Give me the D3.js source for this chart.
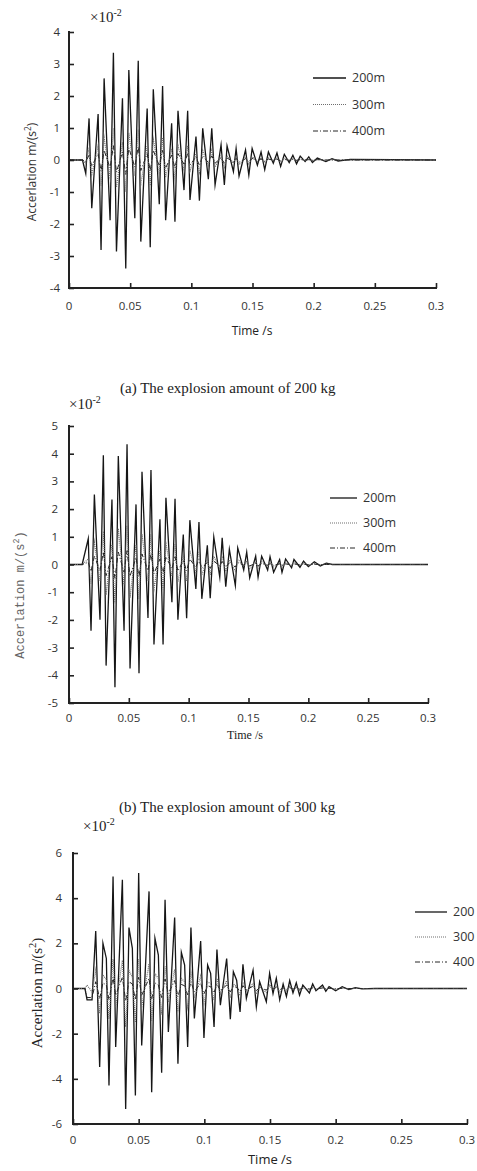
<!DOCTYPE html>
<html><head><meta charset="utf-8">
<script src="https://cdn.jsdelivr.net/npm/d3@7"></script>
<style>body{margin:0;background:#fff}svg{display:block}</style>
</head><body>
<svg id="c" width="477" height="1171"></svg>
<script>
// ---------- DATA ----------
const seriesNames1 = ["200m", "300m", "400m"];
const seriesNames2 = ["200m", "300m", "400m"];
const seriesNames3 = ["200", "300", "400"];
const xTicks = [0, 0.05, 0.1, 0.15, 0.2, 0.25, 0.3];
const yTicks1 = [-4, -3, -2, -1, 0, 1, 2, 3, 4];
const yTicks2 = [-5, -4, -3, -2, -1, 0, 1, 2, 3, 4, 5];
const yTicks3 = [-6, -4, -2, 0, 2, 4, 6];

// (a) 200 kg
const time1 = [0, 0.011, 0.0137, 0.0164, 0.0186, 0.0238, 0.0262, 0.0287, 0.0336, 0.0363, 0.0388, 0.0437, 0.0464, 0.0489, 0.0538, 0.0566, 0.0587, 0.0639, 0.0664, 0.0689, 0.0738, 0.0765, 0.079, 0.0839, 0.0866, 0.0891, 0.094, 0.097, 0.0989, 0.1038, 0.1066, 0.1093, 0.1139, 0.1167, 0.1194, 0.1243, 0.127, 0.1292, 0.1344, 0.1366, 0.139, 0.1443, 0.147, 0.1497, 0.154, 0.157, 0.16, 0.163, 0.167, 0.17, 0.173, 0.176, 0.18, 0.183, 0.186, 0.189, 0.193, 0.196, 0.199, 0.203, 0.21, 0.215, 0.22, 0.23, 0.3];
const acc1_200 = [0, 0, -0.42, 1.30, -1.51, 1.44, -2.81, 2.55, -1.88, 3.35, -2.86, 1.93, -3.39, 2.81, -1.82, 3.10, -2.55, 1.61, -2.73, 2.21, -1.38, 2.31, -1.88, 1.15, -1.93, 1.54, -0.94, 1.54, -1.25, 0.73, -1.27, 0.99, -0.60, 0.99, -0.78, 0.47, -0.78, 0.44, -0.36, 0.36, -0.50, 0.31, -0.47, 0.36, -0.16, 0.25, -0.30, 0.25, -0.10, 0.22, -0.20, 0.18, -0.08, 0.15, -0.12, 0.12, -0.05, 0.10, -0.08, 0.06, -0.05, 0.04, -0.03, 0.02, 0];
const acc1_300 = [0, 0, -0.1, 0.35, -0.45, 0.45, -0.8, 0.7, -0.55, 1.0, -0.85, 0.55, -1.0, 0.85, -0.5, 0.95, -0.75, 0.45, -0.8, 0.65, -0.4, 0.7, -0.55, 0.35, -0.55, 0.45, -0.3, 0.45, -0.35, 0.2, -0.38, 0.3, -0.18, 0.3, -0.22, 0.14, -0.22, 0.13, -0.1, 0.1, -0.15, 0.09, -0.13, 0.1, -0.05, 0.07, -0.09, 0.07, -0.03, 0.06, -0.06, 0.05, -0.02, 0.04, -0.03, 0.03, -0.01, 0.03, -0.02, 0.02, -0.01, 0.01, 0, 0, 0];
const acc1_400 = [0, 0, -0.05, 0.15, -0.2, 0.2, -0.35, 0.3, -0.25, 0.45, -0.38, 0.25, -0.45, 0.38, -0.22, 0.42, -0.33, 0.2, -0.35, 0.3, -0.18, 0.3, -0.25, 0.15, -0.25, 0.2, -0.13, 0.2, -0.16, 0.1, -0.17, 0.13, -0.08, 0.13, -0.1, 0.06, -0.1, 0.06, -0.05, 0.05, -0.07, 0.04, -0.06, 0.05, -0.02, 0.03, -0.04, 0.03, -0.01, 0.03, -0.03, 0.02, -0.01, 0.02, -0.01, 0.01, 0, 0.01, -0.01, 0.01, 0, 0, 0, 0, 0];

// (b) 300 kg
const time2 = [0, 0.011, 0.0161, 0.0184, 0.0212, 0.0259, 0.0287, 0.031, 0.0359, 0.0384, 0.0412, 0.046, 0.0485, 0.051, 0.056, 0.0585, 0.061, 0.066, 0.0685, 0.071, 0.076, 0.0786, 0.081, 0.086, 0.0886, 0.091, 0.0955, 0.0983, 0.101, 0.106, 0.1086, 0.111, 0.1156, 0.118, 0.121, 0.126, 0.128, 0.131, 0.134, 0.139, 0.141, 0.146, 0.1485, 0.151, 0.156, 0.158, 0.161, 0.166, 0.168, 0.171, 0.176, 0.178, 0.181, 0.186, 0.188, 0.193, 0.196, 0.2, 0.205, 0.21, 0.215, 0.22, 0.3];
const acc2_200 = [0, 0, 0.93, -2.39, 2.53, -1.99, 3.94, -3.65, 2.35, -4.43, 3.92, -2.39, 4.34, -3.75, 2.17, -3.93, 3.35, -1.93, 3.41, -2.89, 1.63, -2.89, 2.41, -1.36, 2.37, -1.99, 1.08, -1.94, 1.6, -0.88, 1.53, -1.24, 0.69, -1.22, 0.99, -0.46, 0.96, -0.80, 0.55, -0.76, 0.6, -0.2, 0.45, -0.48, 0.3, -0.46, 0.3, -0.2, 0.28, -0.28, 0.18, -0.28, 0.2, -0.12, 0.18, -0.1, 0.12, -0.08, 0.1, -0.05, 0.05, 0, 0];
const acc2_300 = [0, 0, 0.2, -0.7, 0.8, -0.6, 1.2, -1.1, 0.75, -1.4, 1.3, -0.75, 1.4, -1.2, 0.7, -1.25, 1.1, -0.6, 1.1, -0.9, 0.5, -0.9, 0.75, -0.42, 0.75, -0.62, 0.34, -0.6, 0.5, -0.28, 0.48, -0.38, 0.22, -0.38, 0.3, -0.15, 0.3, -0.25, 0.17, -0.24, 0.19, -0.06, 0.14, -0.15, 0.1, -0.14, 0.1, -0.06, 0.09, -0.09, 0.06, -0.09, 0.06, -0.04, 0.06, -0.03, 0.04, -0.03, 0.03, -0.02, 0.02, 0, 0];
const acc2_400 = [0, 0, 0.08, -0.25, 0.3, -0.22, 0.45, -0.4, 0.28, -0.5, 0.45, -0.28, 0.5, -0.42, 0.25, -0.45, 0.38, -0.22, 0.4, -0.33, 0.2, -0.33, 0.28, -0.16, 0.28, -0.23, 0.13, -0.22, 0.19, -0.1, 0.18, -0.14, 0.08, -0.14, 0.12, -0.05, 0.11, -0.09, 0.06, -0.09, 0.07, -0.02, 0.05, -0.05, 0.04, -0.05, 0.03, -0.02, 0.03, -0.03, 0.02, -0.03, 0.02, -0.01, 0.02, -0.01, 0.01, -0.01, 0.01, 0, 0, 0, 0];

// (c) 400 kg
const time3 = [0, 0.0091, 0.0107, 0.0145, 0.0173, 0.0203, 0.0228, 0.0254, 0.0274, 0.0305, 0.0325, 0.0376, 0.0401, 0.0426, 0.0452, 0.0475, 0.0500, 0.0523, 0.0579, 0.0599, 0.0624, 0.0650, 0.0675, 0.0701, 0.0726, 0.0774, 0.0799, 0.0825, 0.0850, 0.0873, 0.0898, 0.0924, 0.0972, 0.0997, 0.1025, 0.1048, 0.1074, 0.1096, 0.1122, 0.1170, 0.1198, 0.1221, 0.1246, 0.1272, 0.1294, 0.1320, 0.1371, 0.1396, 0.1421, 0.1472, 0.1497, 0.1523, 0.1548, 0.1574, 0.16, 0.1625, 0.165, 0.1675, 0.17, 0.1725, 0.175, 0.18, 0.1825, 0.185, 0.19, 0.1925, 0.195, 0.2, 0.205, 0.21, 0.215, 0.22, 0.23, 0.3];
const acc3_200 = [0, 0, -0.5, -0.5, 2.55, -3.48, 2.0, 1.33, -4.30, 4.96, -2.59, 4.81, -5.33, 2.70, 1.78, -4.74, 5.11, -2.52, 4.30, -4.59, 2.22, 1.48, -3.73, 3.93, -1.93, 3.14, -3.33, 1.60, 1.04, -2.59, 2.70, -1.33, 2.10, -2.19, 1.04, 0.67, -1.70, 1.73, -0.74, 1.33, -1.36, 0.74, 0.37, -1.04, 1.07, -0.44, 0.81, -0.81, 0.30, -0.59, 0.67, -0.22, 0.45, -0.5, 0.2, -0.35, 0.35, -0.2, 0.25, -0.3, 0.15, -0.2, 0.2, -0.1, 0.15, -0.12, 0.08, -0.1, 0.08, -0.05, 0.04, -0.02, 0, 0];
const acc3_300 = [0, 0, 0.15, -0.15, 0.8, -1.1, 0.6, 0.4, -1.35, 1.3, -0.8, 1.25, -1.7, 0.8, 0.5, -1.5, 1.3, -0.8, 1.1, -1.45, 0.65, 0.45, -1.15, 1.0, -0.6, 0.85, -1.05, 0.45, 0.3, -0.8, 0.7, -0.42, 0.55, -0.68, 0.3, 0.2, -0.52, 0.45, -0.23, 0.35, -0.42, 0.2, 0.1, -0.32, 0.28, -0.14, 0.22, -0.25, 0.08, -0.18, 0.18, -0.07, 0.12, -0.15, 0.06, -0.11, 0.1, -0.06, 0.07, -0.09, 0.04, -0.06, 0.05, -0.03, 0.04, -0.04, 0.02, -0.03, 0.02, -0.02, 0.01, 0, 0, 0];
const acc3_400 = [0, 0, -0.4, -0.4, 0.3, -0.45, 0.25, 0.15, -0.5, 0.5, -0.3, 0.5, -0.55, 0.3, 0.2, -0.5, 0.5, -0.3, 0.45, -0.48, 0.25, 0.15, -0.4, 0.42, -0.22, 0.35, -0.36, 0.18, 0.12, -0.28, 0.3, -0.15, 0.24, -0.24, 0.12, 0.08, -0.19, 0.2, -0.09, 0.15, -0.15, 0.09, 0.05, -0.12, 0.12, -0.05, 0.1, -0.09, 0.04, -0.07, 0.08, -0.03, 0.05, -0.06, 0.03, -0.04, 0.04, -0.03, 0.03, -0.03, 0.02, -0.02, 0.02, -0.01, 0.02, -0.01, 0.01, -0.01, 0.01, 0, 0, 0, 0, 0];

const captions = ["(a) The explosion amount of 200 kg", "(b) The explosion amount of 300 kg"];

// ---------- DRAW ----------
const svg = d3.select("#c");
const SANS = "'Open Sans', sans-serif";
const SERIF = "'Liberation Serif', 'Times New Roman', serif";
const MONO = "'Liberation Mono', monospace";
const styles = [
  {stroke: "#161616", width: 1.3, dash: null},
  {stroke: "#6e6e6e", width: 1.2, dash: "1,1"},
  {stroke: "#262626", width: 1.0, dash: "5,2,1,2"}
];

function panel(cfg) {
  const g = svg.append("g");
  const x = d3.scaleLinear().domain([0, 0.3]).range([cfg.x0, cfg.x1]);
  const y = d3.scaleLinear().domain(cfg.yDomain).range([cfg.yBot, cfg.yTop]);

  const line = d3.line().x(d => x(d[0])).y(d => y(d[1]));
  cfg.series.forEach((vals, i) => {
    const pts = cfg.time.map((t, k) => [t, vals[k]]);
    g.append("path").datum(pts).attr("d", line).attr("fill", "none")
      .attr("stroke", styles[i].stroke).attr("stroke-width", styles[i].width)
      .attr("stroke-linejoin", "miter").attr("stroke-miterlimit", 10)
      .attr("stroke-dasharray", styles[i].dash);
  });

  const xa = g.append("g").attr("transform", `translate(0,${cfg.yBot})`)
    .call(d3.axisTop(x).tickValues(xTicks).tickSize(5).tickFormat(d3.format("")).tickSizeOuter(0));
  xa.select(".domain").remove();
  xa.selectAll(".tick text").remove();
  xa.selectAll(".tick line").attr("stroke", "#222").attr("stroke-width", 1.6);
  xTicks.forEach(v => {
    g.append("text").attr("x", x(v)).attr("y", cfg.yBot + cfg.xTickDy)
      .attr("text-anchor", "middle").attr("font-family", SANS).attr("font-size", cfg.tickFs)
      .attr("fill", "#333").text(d3.format("")(v));
  });
  g.append("line").attr("x1", cfg.x0 - 1).attr("x2", x(0.3) + 1).attr("y1", cfg.yBot).attr("y2", cfg.yBot)
    .attr("stroke", "#222").attr("stroke-width", 2);

  const ya = g.append("g").attr("transform", `translate(${cfg.x0},0)`)
    .call(d3.axisRight(y).tickValues(cfg.yTicks).tickSize(5).tickSizeOuter(0));
  ya.select(".domain").remove();
  ya.selectAll(".tick text").remove();
  ya.selectAll(".tick line").attr("stroke", "#222").attr("stroke-width", 1.6);
  cfg.yTicks.forEach(v => {
    g.append("text").attr("x", cfg.x0 - cfg.yTickDx).attr("y", y(v)).attr("dy", "0.35em")
      .attr("text-anchor", "end").attr("font-family", SANS).attr("font-size", cfg.tickFs)
      .attr("fill", "#333").text(v);
  });
  g.append("line").attr("x1", cfg.x0).attr("x2", cfg.x0).attr("y1", cfg.yTop - 1).attr("y2", cfg.yBot + 1)
    .attr("stroke", "#222").attr("stroke-width", 2);

  const m = g.append("text").attr("x", cfg.mult[0]).attr("y", cfg.mult[1])
    .attr("font-family", SERIF).attr("font-size", 15).attr("fill", "#222");
  m.append("tspan").text("×10");
  m.append("tspan").attr("dy", -6).attr("font-size", 10).text("-2");

  const yl = g.append("text").attr("transform", `translate(${cfg.yLab[0]},${cfg.yLab[1]}) rotate(-90)`)
    .attr("text-anchor", "middle").attr("font-family", cfg.yLabFont).attr("font-size", cfg.yLabFs)
    .attr("fill", cfg.yLabFill);
  yl.append("tspan").text("Accerlation m/(s");
  yl.append("tspan").attr("dy", -cfg.yLabFs * 0.4).attr("font-size", cfg.yLabFs * 0.7).text("2");
  yl.append("tspan").attr("dy", cfg.yLabFs * 0.4).text(")");

  g.append("text").attr("x", cfg.xLab[0]).attr("y", cfg.xLab[1]).attr("text-anchor", "middle")
    .attr("font-family", cfg.xLabFont).attr("font-size", cfg.xLabFs).attr("fill", "#222").text("Time /s");

  cfg.names.forEach((n, i) => {
    const ly = cfg.leg[1] + i * cfg.leg[3];
    g.append("line").attr("x1", cfg.leg[0]).attr("x2", cfg.leg[0] + cfg.leg[2]).attr("y1", ly).attr("y2", ly)
      .attr("stroke", styles[i].stroke).attr("stroke-width", styles[i].width)
      .attr("stroke-dasharray", styles[i].dash);
    g.append("text").attr("x", cfg.leg[0] + cfg.leg[2] + 6).attr("y", ly).attr("dy", "0.35em")
      .attr("font-family", SANS).attr("font-size", 12.5).attr("fill", "#333").text(n);
  });
}

panel({
  x0: 69, x1: 436, yTop: 32, yBot: 288, yDomain: [-4, 4], yTicks: yTicks1,
  time: time1, series: [acc1_200, acc1_300, acc1_400], names: seriesNames1,
  tickFs: 11.5, xTickDy: 22, yTickDx: 9,
  mult: [90, 22], yLab: [36, 172], yLabFont: SANS, yLabFs: 12, yLabFill: "#333",
  xLab: [252, 335], xLabFont: SANS, xLabFs: 12,
  leg: [313, 78, 33, 26.5]
});
panel({
  x0: 69, x1: 428, yTop: 426, yBot: 703, yDomain: [-5, 5], yTicks: yTicks2,
  time: time2, series: [acc2_200, acc2_300, acc2_400], names: seriesNames2,
  tickFs: 11.5, xTickDy: 19, yTickDx: 11,
  mult: [69, 409], yLab: [24, 595], yLabFont: MONO, yLabFs: 12, yLabFill: "#666",
  xLab: [245, 739], xLabFont: SERIF, xLabFs: 12,
  leg: [330, 498, 27, 25]
});
panel({
  x0: 73, x1: 467, yTop: 853, yBot: 1124, yDomain: [-6, 6], yTicks: yTicks3,
  time: time3, series: [acc3_200, acc3_300, acc3_400], names: seriesNames3,
  tickFs: 11.5, xTickDy: 20, yTickDx: 11,
  mult: [83, 831], yLab: [42, 993], yLabFont: SERIF, yLabFs: 15, yLabFill: "#222",
  xLab: [270, 1164], xLabFont: SANS, xLabFs: 13,
  leg: [415, 912, 32, 25]
});

svg.append("text").attr("x", 120).attr("y", 393).attr("font-family", SERIF).attr("font-size", 15)
  .attr("fill", "#222").text(captions[0]);
svg.append("text").attr("x", 119).attr("y", 812).attr("font-family", SERIF).attr("font-size", 15)
  .attr("fill", "#222").text(captions[1]);
</script>
</body></html>
